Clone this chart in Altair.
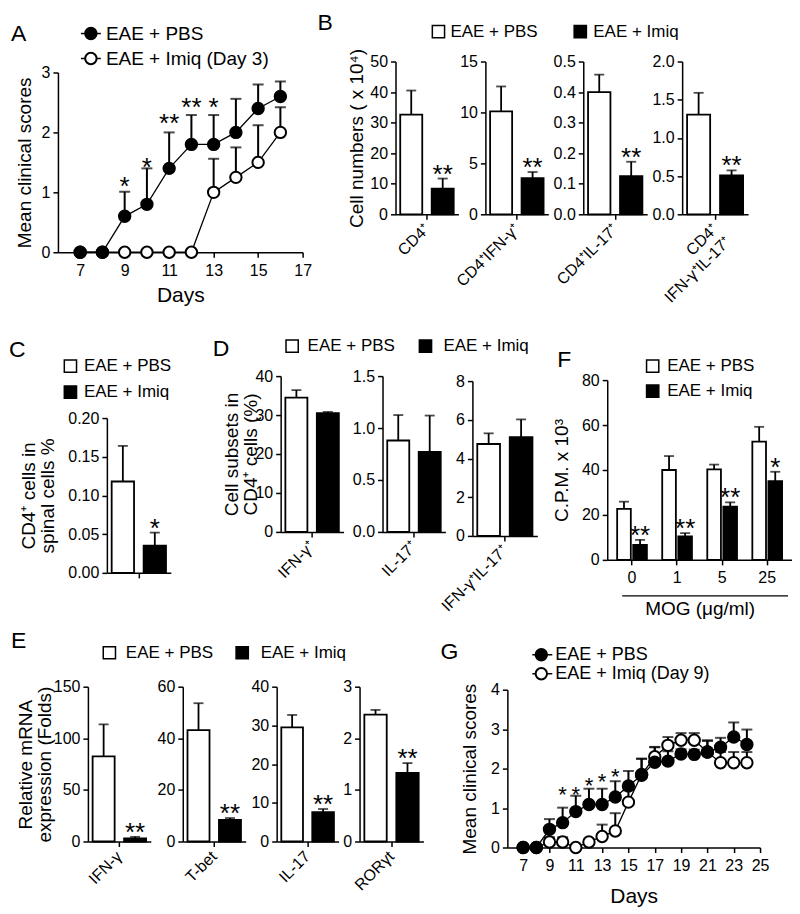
import altair as alt
import pandas as pd

FONT = "Liberation Sans"
GROUPS = ["PBS", "Imiq"]
ONE = pd.DataFrame({"k": [0]})

# ---------------- Panel A ----------------
a_days = [7, 8, 9, 10, 11, 12, 13, 14, 15, 16]
a_pbs = [0, 0, 0.6, 0.8, 1.4, 1.8, 1.8, 2.0, 2.4, 2.6]
a_pbs_err = [0, 0, 0.41, 0.6, 0.6, 0.49, 0.49, 0.56, 0.4, 0.25]
a_imiq = [0, 0, 0, 0, 0, 0, 1.0, 1.25, 1.5, 2.0]
a_imiq_err = [0, 0, 0, 0, 0, 0, 0.56, 0.5, 0.62, 0.42]
a_star_days = [9, 10, 11, 12, 13]
a_star_text = ["*", "*", "**", "**", "*"]
a_star_y = [1.2, 1.53, 2.25, 2.52, 2.53]

# ---------------- Panel B ----------------
b_cats = ["CD4⁺", "CD4⁺IFN-γ⁺", "CD4⁺IL-17⁺", "CD4⁺|IFN-γ⁺IL-17⁺"]
b_pbs = [32.6, 10.1, 0.40, 1.305]
b_pbs_err = [7.9, 2.45, 0.057, 0.285]
b_imiq = [8.4, 3.55, 0.125, 0.51]
b_imiq_err = [3.3, 0.6, 0.047, 0.065]
b_stars = ["**", "**", "**", "**"]
b_ymax = [50, 15, 0.5, 2.0]
b_ticks = [[0, 10, 20, 30, 40, 50], [0, 5, 10, 15], [0, 0.1, 0.2, 0.3, 0.4, 0.5], [0, 0.5, 1.0, 1.5, 2.0]]
b_fmt = ["d", "d", ".1f", ".1f"]

# ---------------- Panel C ----------------
c_pbs = [0.118]
c_pbs_err = [0.046]
c_imiq = [0.035]
c_imiq_err = [0.017]
c_stars = ["*"]

# ---------------- Panel D ----------------
d_cats = ["IFN-γ⁺", "IL-17⁺", "IFN-γ⁺IL-17⁺"]
d_pbs = [34.5, 0.88, 4.75]
d_pbs_err = [1.9, 0.245, 0.55]
d_imiq = [30.5, 0.77, 5.1]
d_imiq_err = [0.3, 0.35, 0.92]
d_ymax = [40, 1.5, 8]
d_ticks = [[0, 10, 20, 30, 40], [0, 0.5, 1.0, 1.5], [0, 2, 4, 6, 8]]
d_fmt = ["d", ".1f", "d"]

# ---------------- Panel E ----------------
e_cats = ["IFN-γ", "T-bet", "IL-17", "RORγt"]
e_pbs = [82.5, 43.2, 29.5, 2.46]
e_pbs_err = [31, 10.4, 3.2, 0.09]
e_imiq = [3.0, 8.4, 7.6, 1.33]
e_imiq_err = [1.5, 0.7, 0.8, 0.19]
e_stars = ["**", "**", "**", "**"]
e_ymax = [150, 60, 40, 3]
e_ticks = [[0, 50, 100, 150], [0, 20, 40, 60], [0, 10, 20, 30, 40], [0, 1, 2, 3]]

# ---------------- Panel F ----------------
f_doses = ["0", "1", "5", "25"]
f_pbs = [22.7, 40.0, 40.3, 52.6]
f_pbs_err = [3.2, 6.2, 2.1, 6.6]
f_imiq = [6.7, 10.5, 23.7, 35.0]
f_imiq_err = [2.2, 1.4, 1.9, 4.2]
f_stars = ["**", "**", "**", "*"]

# ---------------- Panel G ----------------
g_days = [7, 8, 9, 10, 11, 12, 13, 14, 15, 16, 17, 18, 19, 20, 21, 22, 23, 24]
g_pbs = [0, 0, 0.46, 0.63, 0.91, 1.09, 1.09, 1.28, 1.56, 1.83, 2.16, 2.19, 2.37, 2.36, 2.42, 2.54, 2.80, 2.61]
g_pbs_err = [0, 0, 0.26, 0.38, 0.40, 0.40, 0.40, 0.40, 0.38, 0.42, 0.38, 0.25, 0.12, 0.12, 0.30, 0.24, 0.37, 0.38]
g_imiq = [0, 0, 0.14, 0.14, 0.0, 0.14, 0.28, 0.42, 1.15, 1.85, 2.30, 2.59, 2.72, 2.72, 2.42, 2.15, 2.15, 2.15]
g_imiq_err = [0, 0, 0.12, 0.12, 0, 0.07, 0.30, 0.45, 0.30, 0.40, 0.25, 0.21, 0.18, 0.18, 0.28, 0.27, 0.27, 0.27]
g_star_days = [10, 11, 12, 13, 14]
g_star_text = ["*", "*", "*", "*", "*"]
g_star_y = [1.47, 1.47, 1.71, 1.81, 1.95]


# ---------------- helpers ----------------
def vtext(x, y, s, size=17, align="left", baseline="middle"):
    return alt.Chart(ONE).mark_text(
        text=s, fontSize=size, font=FONT, align=align, baseline=baseline, color="black"
    ).encode(x=alt.value(x), y=alt.value(y))


def letter(x, y, s):
    return vtext(x, y, s, size=23, baseline="top")


def vsquare(x, y, fill):
    return alt.Chart(ONE).mark_square(
        size=150, fill=fill, stroke="black", strokeWidth=1.5, opacity=1
    ).encode(x=alt.value(x), y=alt.value(y))


def vrule(x1, x2, y, w=1.5):
    return alt.Chart(ONE).mark_rule(color="black", strokeWidth=w).encode(
        x=alt.value(x1), x2=alt.value(x2), y=alt.value(y)
    )


def vcircle(x, y, fill):
    return alt.Chart(ONE).mark_point(
        shape="circle", size=130, filled=True, fill=fill, stroke="black", strokeWidth=2, opacity=1
    ).encode(x=alt.value(x), y=alt.value(y))


def anchor(x, y):
    return alt.Chart(ONE).mark_circle(size=0.5, opacity=0).encode(x=alt.value(x), y=alt.value(y))


def spacer(w):
    return alt.Chart(ONE).mark_circle(size=0.5, opacity=0).encode(
        x=alt.value(0), y=alt.value(0)
    ).properties(width=w, height=10)


def sq_legend(x_sq1, x_t1, x_sq2, x_t2, y1, y2):
    return [
        vsquare(x_sq1, y1, "white"), vtext(x_t1, y1, "EAE + PBS"),
        vsquare(x_sq2, y2, "black"), vtext(x_t2, y2, "EAE + Imiq"),
    ]


def bar_panel(cats, pbs, pbs_err, imiq, imiq_err, stars, ymax, yticks, yfmt, width, height,
              top=0, ytitle=None, title_x=None, show_labels=True, label_angle=-45,
              x_pi=0.0, x_po=0.0, off_pi=0.3, off_po=0.15, star_dy=4, xtitle=None,
              xtitle_pad=None, extra=()):
    rows = []
    for i, c in enumerate(cats):
        rows.append({"cat": c, "grp": "PBS", "val": pbs[i], "err": pbs_err[i], "star": ""})
        rows.append({"cat": c, "grp": "Imiq", "val": imiq[i], "err": imiq_err[i], "star": stars[i]})
    df = pd.DataFrame(rows)
    df["hi"] = df["val"] + df["err"]

    yscale = alt.Scale(domain=[0, ymax], range=[height, top], nice=False, zero=True)
    ykw = dict(values=yticks, format=yfmt, title=ytitle, titleLineHeight=19)
    if title_x is not None:
        ykw["titleX"] = title_x
    yaxis = alt.Axis(**ykw)
    xkw = dict(title=xtitle, labels=show_labels, labelAngle=label_angle,
               labelExpr="split(datum.label, '|')")
    if label_angle != 0:
        xkw.update(labelAlign="right", labelBaseline="middle", labelPadding=7, labelFontSize=16)
    else:
        xkw.update(labelPadding=5)
    if xtitle_pad is not None:
        xkw["titlePadding"] = xtitle_pad
    xaxis = alt.Axis(**xkw)

    X = alt.X("cat:N", sort=cats, scale=alt.Scale(domain=cats, paddingInner=x_pi, paddingOuter=x_po), axis=xaxis)
    XO = alt.XOffset("grp:N", sort=GROUPS, scale=alt.Scale(domain=GROUPS, paddingInner=off_pi, paddingOuter=off_po))

    base = alt.Chart(df)
    bars = base.mark_bar(stroke="black", strokeWidth=1.8).encode(
        x=X, xOffset=XO, y=alt.Y("val:Q", scale=yscale, axis=yaxis),
        fill=alt.Fill("grp:N", scale=alt.Scale(domain=GROUPS, range=["white", "black"]), legend=None),
    )
    err = base.transform_filter("datum.err > 0").mark_rule(color="black", strokeWidth=1.8).encode(
        x=X, xOffset=XO, y=alt.Y("val:Q", scale=yscale, axis=yaxis), y2="hi:Q"
    )
    cap = base.transform_filter("datum.err > 0").mark_tick(
        color="black", thickness=1.8, size=10, orient="horizontal"
    ).encode(x=X, xOffset=XO, y=alt.Y("hi:Q", scale=yscale, axis=yaxis))
    st = base.transform_filter("datum.star != ''").mark_text(
        fontSize=26, font=FONT, baseline="alphabetic", dy=star_dy, color="black"
    ).encode(x=X, xOffset=XO, y=alt.Y("hi:Q", scale=yscale, axis=yaxis), text="star:N")
    return alt.layer(bars, err, cap, st, *extra).properties(width=width, height=height)


def line_panel(days, pbs, pbs_err, imiq, imiq_err, xdom, xticks, ymax, yticks, width, height,
               top, star_days, star_text, star_y, star_size, star_dy, title_x, days_pad, extra=()):
    rows = []
    for i, d in enumerate(days):
        rows.append({"day": d, "grp": "Imiq", "val": imiq[i], "err": imiq_err[i]})
    for i, d in enumerate(days):
        rows.append({"day": d, "grp": "PBS", "val": pbs[i], "err": pbs_err[i]})
    df = pd.DataFrame(rows)
    df["hi"] = df["val"] + df["err"]
    sdf = pd.DataFrame({"day": star_days, "t": star_text, "sy": star_y})

    xaxis = alt.Axis(values=xticks, title="Days", titleFontSize=21, labelFlush=False,
                     labelOverlap=False, labelPadding=5, titlePadding=days_pad)
    X = alt.X("day:Q", scale=alt.Scale(domain=xdom, nice=False, zero=False), axis=xaxis)
    yscale = alt.Scale(domain=[0, ymax], range=[height, top], nice=False, zero=True)
    yaxis = alt.Axis(values=yticks, format="d", title="Mean clinical scores", titleX=title_x)
    Y = alt.Y("val:Q", scale=yscale, axis=yaxis)

    base = alt.Chart(df)
    lines = base.mark_line(color="black", strokeWidth=1.3).encode(x=X, y=Y, detail="grp:N")
    err = base.transform_filter("datum.err > 0").mark_rule(color="black", strokeWidth=2).encode(
        x=X, y=Y, y2="hi:Q"
    )
    cap = base.transform_filter("datum.err > 0").mark_tick(
        color="black", thickness=2, size=11, orient="horizontal"
    ).encode(x=X, y=alt.Y("hi:Q", scale=yscale, axis=yaxis))
    p_im = base.transform_filter("datum.grp == 'Imiq'").mark_point(
        shape="circle", size=130, filled=True, fill="white", stroke="black", strokeWidth=2, opacity=1
    ).encode(x=X, y=Y)
    p_pb = base.transform_filter("datum.grp == 'PBS'").mark_point(
        shape="circle", size=130, filled=True, fill="black", stroke="black", strokeWidth=2, opacity=1
    ).encode(x=X, y=Y)
    st = alt.Chart(sdf).mark_text(
        fontSize=star_size, font=FONT, baseline="alphabetic", dy=star_dy, color="black"
    ).encode(x=X, y=alt.Y("sy:Q", scale=yscale, axis=yaxis), text="t:N")
    return alt.layer(lines, err, cap, p_im, p_pb, st, *extra).properties(width=width, height=height)


# ---------------- Row 1: A + B ----------------
A = line_panel(
    a_days, a_pbs, a_pbs_err, a_imiq, a_imiq_err, [6, 17], [7, 9, 11, 13, 15, 17], 3, [0, 1, 2, 3],
    245, 191, 11, a_star_days, a_star_text, a_star_y, 26, 15, -23, 6,
    extra=[
        letter(-47, -39, "A"),
        vrule(23, 43, -28), vcircle(33, -28, "black"), vtext(48, -28, "EAE + PBS", size=19),
        vrule(23, 43, -3), vcircle(33, -3, "white"), vtext(48, -3, "EAE + Imiq (Day 3)", size=19),
        anchor(-49, -52.5), anchor(-49, 271),
    ],
)

b_widths = [63, 63, 64, 66]
B = []
for i in range(4):
    extra = []
    if i == 0:
        extra = [letter(-78, -50, "B")] + sq_legend(43, 55, 185, 198, -30, -30)
    B.append(bar_panel(
        [b_cats[i]], [b_pbs[i]], [b_pbs_err[i]], [b_imiq[i]], [b_imiq_err[i]], [b_stars[i]],
        b_ymax[i], b_ticks[i], b_fmt[i], b_widths[i], 153,
        ytitle="Cell numbers ( x 10⁴)" if i == 0 else None, title_x=-29 if i == 0 else None,
        extra=extra,
    ))

row1 = alt.hconcat(spacer(49), A, spacer(93), B[0], spacer(27), B[1], spacer(35), B[2], spacer(35), B[3],
                   spacing=0, bounds="flush")

# ---------------- Row 2: C + D + F ----------------
C = bar_panel(
    [""], c_pbs, c_pbs_err, c_imiq, c_imiq_err, c_stars, 0.20, [0, 0.05, 0.10, 0.15, 0.20], ".2f",
    64, 197, top=42, ytitle=["CD4⁺ cells in", "spinal cells %"], title_x=-68, show_labels=False,
    extra=[letter(-98, -37, "C")]
    + sq_legend(-36.5, -23, -36.5, -23, -10, 16)
    + [anchor(-98, -42.5), anchor(-98, 249)],
)

d_widths = [63, 63, 65]
d_heights = [156, 156, 160]
d_tops = [0, 0, 5]
D = []
for i in range(3):
    extra = []
    if i == 0:
        extra = [letter(-68, -38, "D")] + sq_legend(11.5, 27, 145, 163, -30, -30)
    D.append(bar_panel(
        [d_cats[i]], [d_pbs[i]], [d_pbs_err[i]], [d_imiq[i]], [d_imiq_err[i]], [""],
        d_ymax[i], d_ticks[i], d_fmt[i], d_widths[i], d_heights[i], top=d_tops[i],
        ytitle=["Cell subsets in", "CD4⁺ cells (%)"] if i == 0 else None, title_x=-39 if i == 0 else None,
        extra=extra,
    ))

F = bar_panel(
    f_doses, f_pbs, f_pbs_err, f_imiq, f_imiq_err, f_stars, 80, [0, 20, 40, 60, 80], "d",
    185, 184, top=4, ytitle="C.P.M. x 10³", title_x=-36, label_angle=0,
    x_pi=0.34, x_po=0.22, off_pi=0.15, off_po=0.0, star_dy=4,
    xtitle="MOG (μg/ml)", xtitle_pad=14,
    extra=[letter(-50, -27, "F")]
    + sq_legend(45.5, 60, 45.5, 60, -10, 15)
    + [vrule(15, 181, 220, 1.3)],
)

row2 = alt.hconcat(spacer(98), C, spacer(110), D[0], spacer(39), D[1], spacer(27), D[2], spacer(70), F,
                   spacing=0, bounds="flush")

# ---------------- Row 3: E + G ----------------
e_widths = [63, 63, 62, 64]
E = []
for i in range(4):
    extra = []
    if i == 0:
        extra = ([letter(-77, -57, "E")]
                 + sq_legend(21.5, 38, 154.5, 173, -34, -34)
                 + [anchor(-79, -60.5), anchor(-79, 219)])
    E.append(bar_panel(
        [e_cats[i]], [e_pbs[i]], [e_pbs_err[i]], [e_imiq[i]], [e_imiq_err[i]], [e_stars[i]],
        e_ymax[i], e_ticks[i], "d", e_widths[i], 155,
        ytitle=["Relative mRNA", "expression (Folds)"] if i == 0 else None, title_x=-52 if i == 0 else None,
        extra=extra,
    ))

G = line_panel(
    g_days, g_pbs, g_pbs_err, g_imiq, g_imiq_err, [5.8, 25], [7, 9, 11, 13, 15, 17, 19, 21, 23, 25],
    4, [0, 1, 2, 3, 4], 253, 161, 3, g_star_days, g_star_text, g_star_y, 22, 13, -28, 12,
    extra=[
        letter(-67, -46, "G"),
        vrule(25, 45, -32), vcircle(34, -32, "black"), vtext(48, -32, "EAE + PBS", size=18),
        vrule(25, 45, -13), vcircle(34, -13, "white"), vtext(48, -13, "EAE + Imiq (Day 9)", size=18),
    ],
)

row3 = alt.hconcat(spacer(79), E[0], spacer(32), E[1], spacer(31), E[2], spacer(21), E[3], spacer(84), G,
                   spacing=0, bounds="flush")

res = dict(x="independent", y="independent", xOffset="independent", fill="independent")
row1 = row1.resolve_scale(**res)
row2 = row2.resolve_scale(**res)
row3 = row3.resolve_scale(**res)

chart = alt.vconcat(row1, row2, row3, spacing=0, padding=0, center=False).resolve_scale(**res).configure_axis(
    labelFont=FONT, titleFont=FONT, labelFontSize=16, titleFontSize=19, titleFontWeight="normal",
    labelColor="black", titleColor="black", domainColor="black", tickColor="black",
    domainWidth=1.5, tickWidth=1.5, tickSize=5, grid=False, labelPadding=3,
).configure_view(stroke=None)

chart.save("out.html", embed_options={"renderer": "svg", "actions": False})
